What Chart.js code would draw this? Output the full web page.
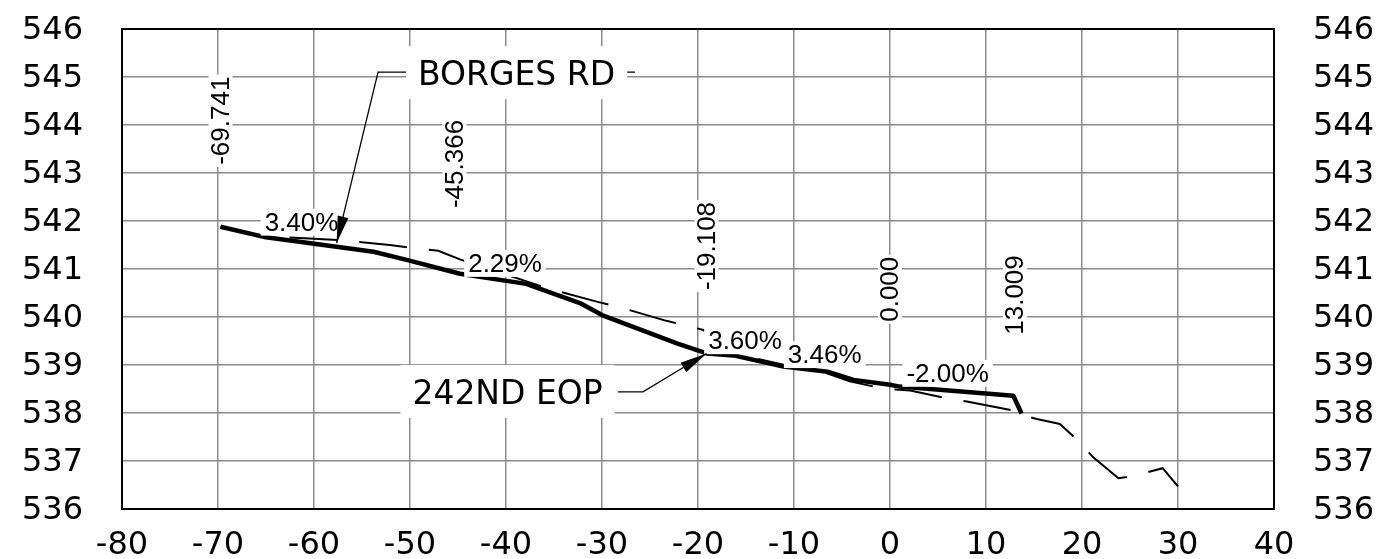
<!DOCTYPE html>
<html>
<head>
<meta charset="utf-8">
<title>Profile</title>
<script src="https://cdn.jsdelivr.net/npm/chart.js@4.4.1/dist/chart.umd.min.js"></script>
<style>
  html, body { margin: 0; padding: 0; background: #ffffff; }
  #wrap { width: 1385px; height: 559px; }
</style>
</head>
<body>
<div id="wrap"><canvas id="profile" width="1385" height="559"></canvas></div>
<script>
// Axis ticks
const stationTicks = [-80, -70, -60, -50, -40, -30, -20, -10, 0, 10, 20, 30, 40];
const elevationTicks = [536, 537, 538, 539, 540, 541, 542, 543, 544, 545, 546];

// Finished grade profile (heavy solid line)
const finishedStations = [-69.741, -65.0, -53.8, -50.35, -44.8, -37.9, -32.3, -30.0, -22.2, -19.108, -16.3, -11.1, -6.5, -3.8, 0.0, 1.0, 12.85, 13.7];
const finishedElevations = [541.88, 541.66, 541.36, 541.19, 540.9, 540.69, 540.29, 540.04, 539.45, 539.24, 539.2, 538.97, 538.86, 538.69, 538.59, 538.55, 538.36, 537.99];

// Existing ground profile (dashed line)
const groundStations = [-69.741, -65.0, -60.0, -57.1, -52.1, -49.7, -47.05, -44.8, -35.4, -30.55, -28.1, -23.3, -20.8, -19.45, -16.5, -11.0, -6.5, -4.2, -1.9, 0.6, 2.1, 5.55, 8.0, 12.85, 13.7, 15.3, 17.7, 19.6, 21.2, 23.8, 25.35, 28.4, 30.0];
const groundElevations = [541.88, 541.68, 541.63, 541.6, 541.5, 541.44, 541.38, 541.2, 540.58, 540.32, 540.2, 539.92, 539.8, 539.73, 539.25, 539.0, 538.82, 538.66, 538.56, 538.49, 538.47, 538.32, 538.24, 538.05, 537.96, 537.875, 537.77, 537.42, 537.07, 536.64, 536.69, 536.85, 536.47];

// Grade callouts (text baseline centred on station / elevation)
const gradeTexts = ['3.40%', '2.29%', '3.60%', '3.46%', '-2.00%'];
const gradeStations = [-61.3, -40.1, -15.1, -6.8, 6.0];
const gradeElevations = [541.80, 540.94, 539.33, 539.04, 538.65];

// Vertical station labels (text starts at the given elevation)
const stationLabels = ['-69.741', '-45.366', '-19.108', '0.000', '13.009'];
const stationLabelElevations = [543.17, 542.27, 540.56, 539.90, 539.63];

// Leader callouts
const calloutTexts = ['BORGES RD', '242ND EOP'];
const calloutTextStations = [-38.9, -39.84];
const calloutTextElevations = [544.83, 538.19];
const calloutElbowStations = [-53.33, -25.73];
const calloutElbowElevations = [545.10, 538.44];
const calloutLandingStations = [-26.56, -28.33];
const calloutTipStations = [-57.64, -19.108];
const calloutTipElevations = [541.54, 539.24];

const toPoints = (xs, ys) => xs.map((x, i) => ({ x: x, y: ys[i] }));

const TICK_FONT = { family: 'DejaVu Sans', size: 32 };
const NOTE_FONT = '26px "Liberation Sans", Arial, sans-serif';
const CALLOUT_FONT = '33px "DejaVu Sans", Verdana, sans-serif';

function boxedText(ctx, text, cx, baseline, font, padX, padTop, padBottom) {
  ctx.font = font;
  const m = ctx.measureText(text);
  const w = m.width;
  const asc = m.actualBoundingBoxAscent;
  ctx.fillStyle = '#ffffff';
  ctx.fillRect(cx - w / 2 - padX, baseline - asc - padTop, w + padX * 2, asc + padTop + padBottom);
  ctx.fillStyle = '#000000';
  ctx.textAlign = 'center';
  ctx.textBaseline = 'alphabetic';
  ctx.fillText(text, cx, baseline);
}

// fixed axis bands so the plot frame lands where the drawing expects it
function fixVertical(width) {
  return (s) => { s.width = width; s.paddingTop = 0; s.paddingBottom = 0; };
}
function fixHorizontal(height) {
  return (s) => { s.height = height; s.paddingLeft = 0; s.paddingRight = 0; };
}

const profileNotes = {
  id: 'profileNotes',
  beforeDatasetsDraw(chart) {
    const a = chart.chartArea;
    const ctx = chart.ctx;
    ctx.save();
    ctx.strokeStyle = '#000000';
    ctx.lineWidth = 2;
    ctx.strokeRect(a.left, a.top, a.right - a.left, a.bottom - a.top);
    ctx.restore();
  },
  afterDatasetsDraw(chart) {
    const ctx = chart.ctx;
    const xs = chart.scales.x;
    const ys = chart.scales.y;
    ctx.save();

    // grade percentages
    gradeTexts.forEach((t, i) => {
      boxedText(ctx, t, xs.getPixelForValue(gradeStations[i]), ys.getPixelForValue(gradeElevations[i]), NOTE_FONT, 4, 4, 5);
    });

    // vertical station labels
    stationLabels.forEach((t, i) => {
      const px = xs.getPixelForValue(parseFloat(t));
      const py = ys.getPixelForValue(stationLabelElevations[i]);
      ctx.save();
      ctx.translate(px, py);
      ctx.rotate(-Math.PI / 2);
      ctx.font = NOTE_FONT;
      const m = ctx.measureText(t);
      ctx.fillStyle = '#ffffff';
      ctx.fillRect(-2, -12, m.width + 4, 24);
      ctx.fillStyle = '#000000';
      ctx.textAlign = 'left';
      ctx.textBaseline = 'middle';
      ctx.fillText(t, 0, 1);
      ctx.restore();
    });

    // leader lines with arrowheads
    calloutTexts.forEach((t, i) => {
      const ex = xs.getPixelForValue(calloutElbowStations[i]);
      const ey = ys.getPixelForValue(calloutElbowElevations[i]);
      const lx = xs.getPixelForValue(calloutLandingStations[i]);
      const tx = xs.getPixelForValue(calloutTipStations[i]);
      const ty = ys.getPixelForValue(calloutTipElevations[i]);
      ctx.strokeStyle = '#000000';
      ctx.lineWidth = 1.3;
      ctx.beginPath();
      ctx.moveTo(lx, ey);
      ctx.lineTo(ex, ey);
      ctx.lineTo(tx, ty);
      ctx.stroke();
      const ang = Math.atan2(ty - ey, tx - ex);
      const len = 27, half = 5.5;
      const bx = tx - Math.cos(ang) * len;
      const by = ty - Math.sin(ang) * len;
      ctx.fillStyle = '#000000';
      ctx.beginPath();
      ctx.moveTo(tx, ty);
      ctx.lineTo(bx + Math.sin(ang) * half, by - Math.cos(ang) * half);
      ctx.lineTo(bx - Math.sin(ang) * half, by + Math.cos(ang) * half);
      ctx.closePath();
      ctx.fill();
    });

    // callout names
    calloutTexts.forEach((t, i) => {
      boxedText(ctx, t, xs.getPixelForValue(calloutTextStations[i]), ys.getPixelForValue(calloutTextElevations[i]), CALLOUT_FONT, 12, 14, 14);
    });

    ctx.restore();
  }
};

new Chart(document.getElementById('profile'), {
  type: 'scatter',
  data: {
    datasets: [
      {
        label: 'Finished grade',
        data: toPoints(finishedStations, finishedElevations),
        showLine: true,
        borderColor: '#000000',
        borderWidth: 4.5,
        pointRadius: 0,
        tension: 0,
        borderJoinStyle: 'round'
      },
      {
        label: 'Existing ground',
        data: toPoints(groundStations, groundElevations),
        showLine: true,
        borderColor: '#000000',
        borderWidth: 2,
        borderDash: [48, 22],
        pointRadius: 0,
        tension: 0
      }
    ]
  },
  options: {
    responsive: false,
    animation: false,
    events: [],
    layout: { padding: { top: 29, left: 0, right: 0, bottom: 0 } },
    plugins: { legend: { display: false }, tooltip: { enabled: false }, title: { display: false } },
    scales: {
      x: {
        type: 'linear',
        position: 'bottom',
        min: -80,
        max: 40,
        afterBuildTicks: (s) => { s.ticks = stationTicks.map(v => ({ value: v })); },
        afterFit: fixHorizontal(50),
        grid: { color: '#8c8c8c', lineWidth: 1.5, drawTicks: false },
        border: { display: false },
        ticks: { font: TICK_FONT, color: '#000000', padding: 17, maxRotation: 0, autoSkip: false }
      },
      y: {
        type: 'linear',
        position: 'left',
        min: 536,
        max: 546,
        afterBuildTicks: (s) => { s.ticks = elevationTicks.map(v => ({ value: v })); },
        afterFit: fixVertical(122),
        grid: { color: '#8c8c8c', lineWidth: 1.5, drawTicks: false },
        border: { display: false },
        ticks: { font: TICK_FONT, color: '#000000', padding: 39, labelOffset: 2, autoSkip: false }
      },
      yRight: {
        type: 'linear',
        position: 'right',
        min: 536,
        max: 546,
        afterBuildTicks: (s) => { s.ticks = elevationTicks.map(v => ({ value: v })); },
        afterFit: fixVertical(111),
        grid: { display: false, drawTicks: false },
        border: { display: false },
        ticks: { font: TICK_FONT, color: '#000000', padding: 39, labelOffset: 2, autoSkip: false }
      }
    }
  },
  plugins: [profileNotes]
});
</script>
</body>
</html>
